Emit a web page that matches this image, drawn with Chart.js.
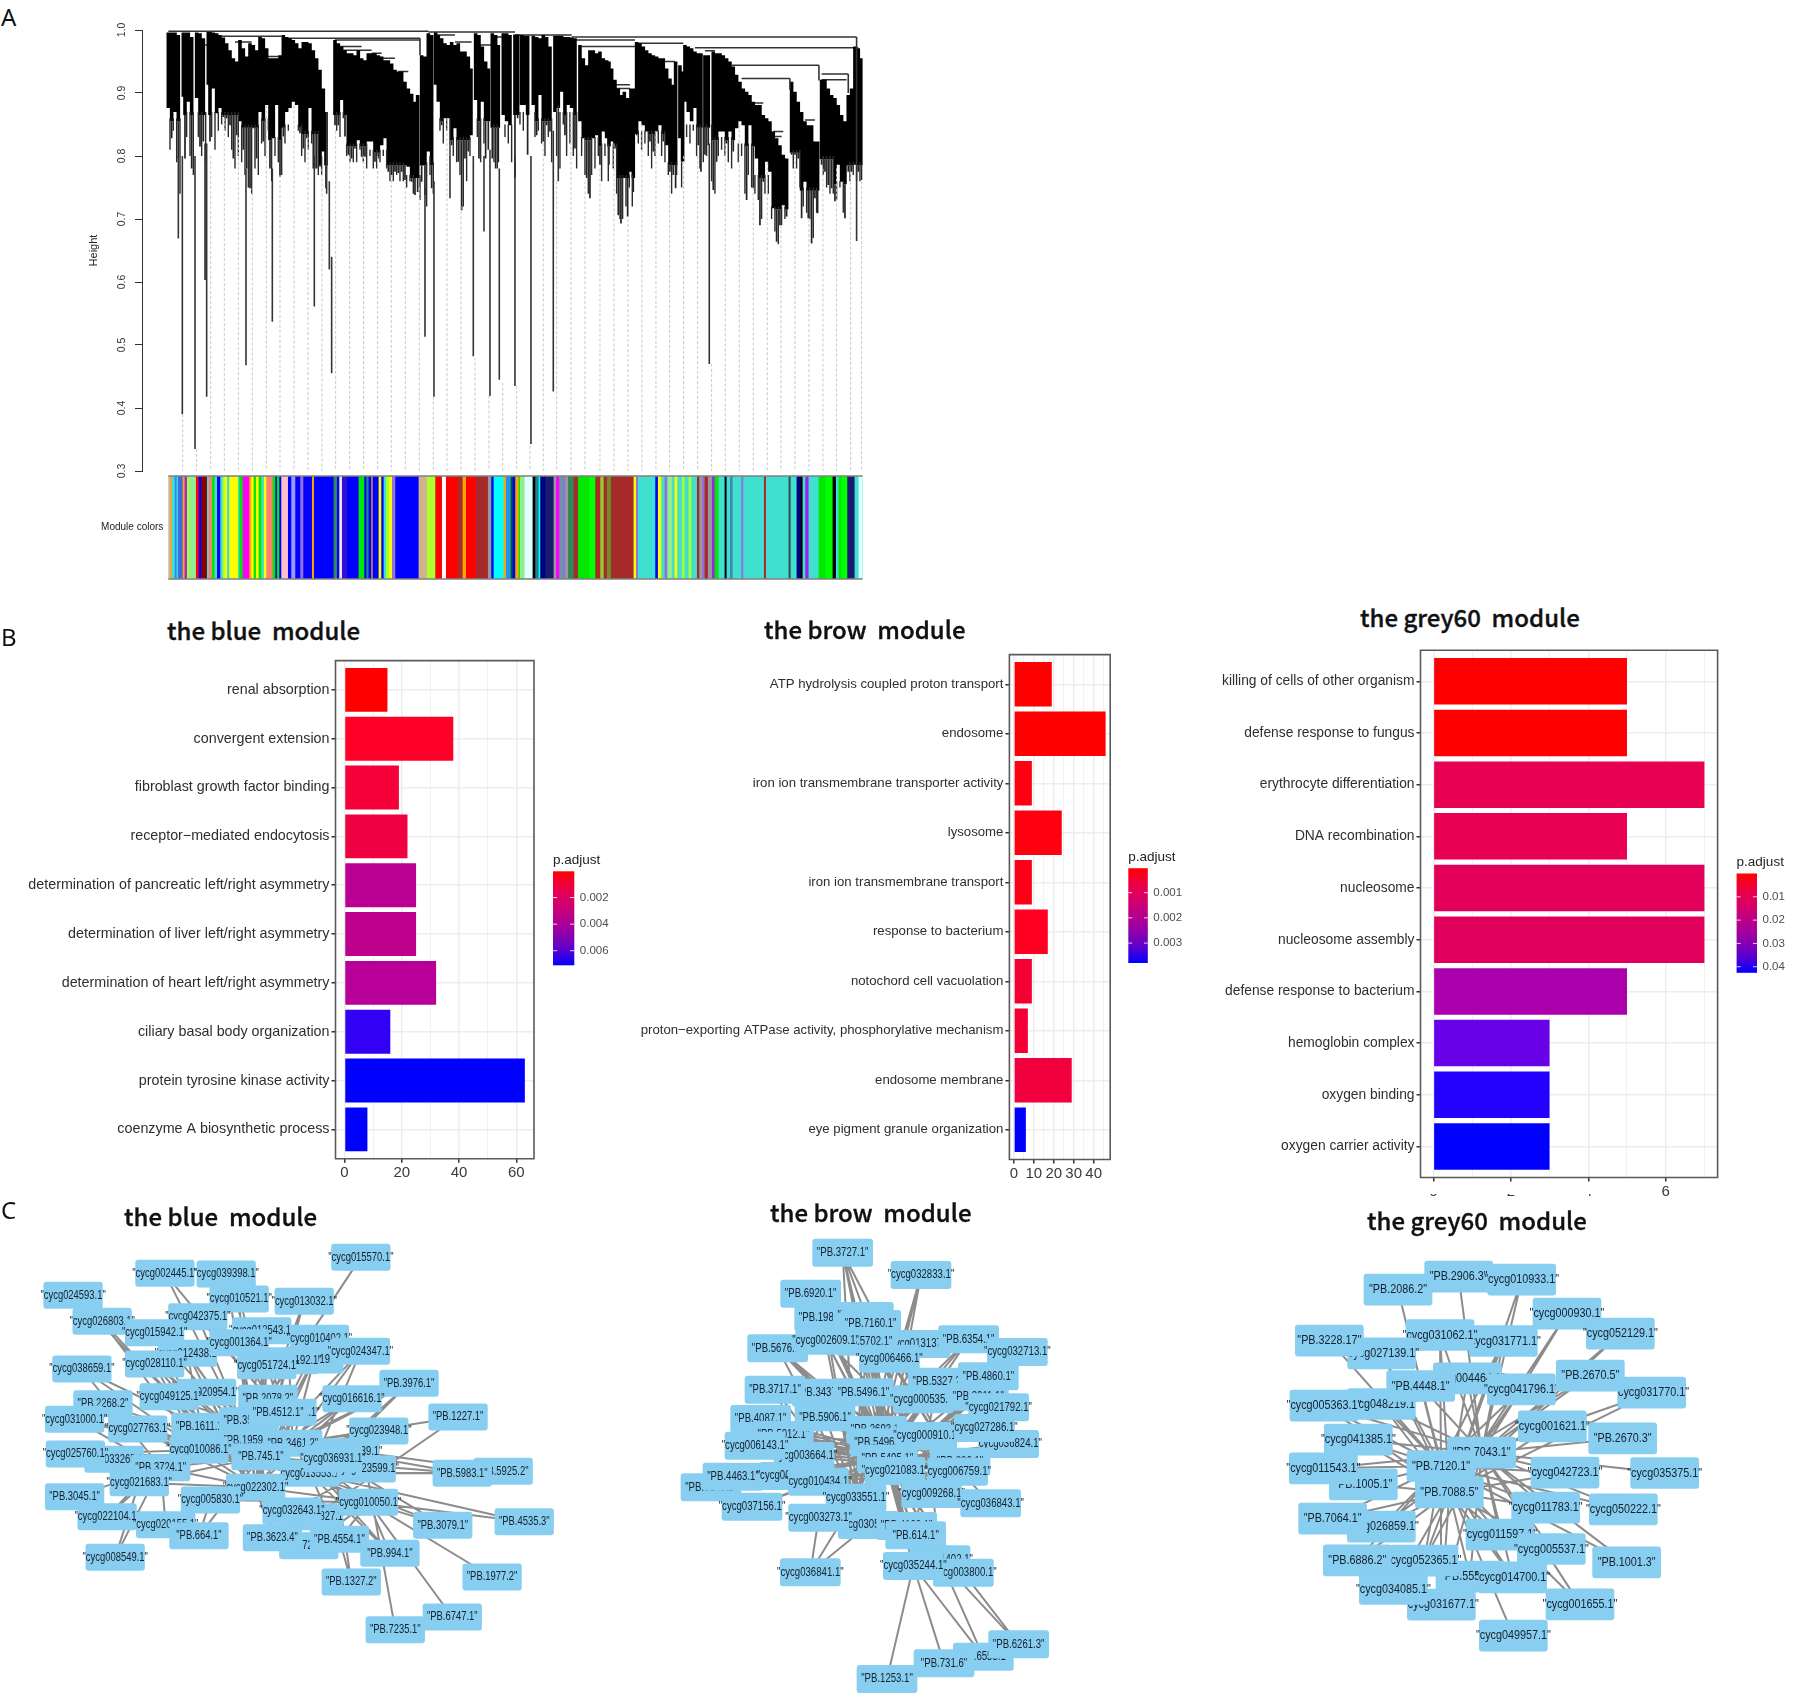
<!DOCTYPE html>
<html>
<head>
<meta charset="utf-8">
<title>Module figure</title>
<script src="https://cdn.jsdelivr.net/npm/chart.js@4"></script>
<style>
html,body{margin:0;padding:0;background:#fff;}
#page{position:relative;width:1795px;height:1697px;overflow:hidden;background:#fff;}
#page canvas{position:absolute;}
.title{position:absolute;font-family:"Noto Sans CJK SC","Noto Sans",sans-serif;font-weight:500;font-size:24px;line-height:30px;color:#111;white-space:pre;z-index:5;-webkit-text-stroke:0.35px #111;}
.letter{position:absolute;font-family:"Noto Sans","Open Sans",sans-serif;font-size:24px;line-height:30px;color:#111;z-index:5;}
#tickCover{position:absolute;left:1400px;top:1186px;width:250px;height:8px;background:#fff;z-index:4;}
</style>
</head>
<body>
<div id="page">
<div class="letter" style="left:1px;top:2px">A</div>
<div class="letter" style="left:1px;top:622px">B</div>
<div class="letter" style="left:1px;top:1195px">C</div>
<div class="title" style="left:167px;top:615px">the blue  module</div>
<div class="title" style="left:764px;top:614px">the brow  module</div>
<div class="title" style="left:1360px;top:602px">the grey60  module</div>
<div class="title" style="left:124px;top:1201px">the blue  module</div>
<div class="title" style="left:770px;top:1197px">the brow  module</div>
<div class="title" style="left:1367px;top:1205px">the grey60  module</div>
<div id="tickCover"></div>
</div>
<script>
// ------------------------------
// Panel A data (dendrogram)
// ------------------------------

const heightTicks = [1.0, 0.9, 0.8, 0.7, 0.6, 0.5, 0.4, 0.3];

const branchLeaf = [0,10,20,30,45,50,60,70,85,95,105,120,125,135,145,155,165,175,185,195,205,215,225,235,245,255,265,275,285,295,305,315,325,335,345,355,365,375,385,395,405,415,425,435,445,455,465,473,
500,510,520,530,540,550,560,570,580,590,600,610,620,630,640,650,660,670,680,690,700,710,720,730,740,748,760,770,780,790,802,810,820,830,840,850,860,870,880,890,900,908,922,932,942,952,960,972,982,990,1005,1015,1025,
1040,1048,1060,1070,1078,1095,1105,1115,1125,1135,1145,1160,1170,1180,1190,1200,1210,1220,1235,1245,1255,1265,1275,1285,1295,1305,1315,1322,1330,1340,1350,1358,1368,1378,1388,1395,
1405,1415,1425,1435,1445,1455,1465,1475,1485,1495,1505,1515,1522,1535,1543,1550,1560,1570,1580,1590,1598,1610,1620,1635,1645,1655,1665,1675,1685,1695,1705,1715,1725,1735,1745,1755,1765,1775,1785,1795,1805,1815,1825,1835,1845,1855,
1870,1880,1890,1900,1910,1920,1930,1940,1948,1960,1970,1980,1990,2000,2010,2020,2030,2040,2050,2060,2070,2080];

const branchTop = [.996,.996,.996,.992,.996,.996,.996,.989,.996,.995,.987,.997,.997,.996,.995,.992,.988,.979,.968,.955,.950,.984,.971,.958,.979,.976,.968,.989,.987,.971,.955,.955,.955,.960,.992,.989,.987,.984,.979,.971,.981,.981,.979,.968,.955,.937,.907,.870,
.984,.979,.974,.968,.963,.963,.960,.968,.955,.952,.963,.963,.963,.960,.958,.952,.952,.947,.937,.934,.934,.918,.907,.899,.886,.897,.960,.958,.995,.992,.996,.992,.987,.979,.976,.981,.976,.979,.966,.966,.958,.939,.995,.992,.974,.950,.939,.995,.992,.976,.995,.995,.992,
.993,.993,.992,.991,.991,.991,.989,.987,.992,.989,.974,.991,.991,.991,.989,.989,.988,.987,.976,.955,.944,.968,.968,.963,.966,.955,.952,.950,.939,.921,.907,.897,.902,.892,.907,.907,
.981,.979,.974,.968,.963,.960,.958,.955,.955,.939,.923,.913,.950,.944,.934,.976,.974,.971,.966,.963,.963,.960,.960,.966,.963,.963,.960,.955,.950,.942,.929,.918,.907,.902,.897,.886,.881,.881,.865,.860,.855,.839,.828,.817,.802,.796,
.918,.902,.886,.870,.855,.849,.849,.823,.823,.921,.921,.907,.897,.892,.881,.865,.855,.897,.907,.974,.971,.955];

const branchBottom = [.876,.828,.870,.796,.894,.796,.886,.780,.892,.815,.823,.913,.823,.907,.868,.876,.862,.860,.849,.796,.833,.855,.810,.780,.749,.844,.796,.870,.823,.881,.780,.828,.881,.767,.831,.870,.876,.886,.881,.836,.812,.828,.876,.780,.780,.783,.807,.749,
.849,.849,.889,.831,.802,.796,.812,.825,.799,.799,.823,.823,.791,.796,.817,.828,.775,.770,.775,.773,.775,.762,.783,.759,.738,.743,.759,.738,.807,.749,.913,.886,.849,.860,.860,.817,.844,.791,.714,.796,.807,.833,.889,.796,.886,.796,.810,.796,.780,.790,.865,.855,.849,
.765,.860,.881,.881,.802,.881,.833,.897,.823,.849,.839,.870,.876,.902,.833,.881,.876,.812,.855,.828,.765,.733,.828,.833,.786,.839,.828,.786,.823,.812,.706,.693,.765,.704,.775,.743,
.833,.855,.849,.839,.823,.807,.839,.849,.823,.817,.775,.770,.749,.828,.791,.886,.870,.855,.876,.817,.775,.802,.817,.746,.791,.839,.839,.820,.839,.807,.844,.855,.849,.730,.849,.749,.796,.690,.759,.791,.775,.717,.664,.690,.722,.704,
.802,.802,.796,.701,.759,.701,.661,.733,.709,.786,.775,.754,.749,.728,.786,.759,.701,.775,.775,.786,.775,.762];

// where the solid black body of each stretch of the tree ends, hairs hang below it
const bodyFrom = [0,45,85,120,215,275,305,345,405,455,500,530,600,660,720,760,802,850,922,972,1040,1105,1160,1235,1295,1350,1405,1495,1550,1635,1705,1765,1815,1870,1900,1960,2000,2040];
const bodyTo = [35,75,110,214,270,300,340,400,445,475,530,599,659,719,759,800,849,910,960,1025,1100,1145,1230,1290,1349,1400,1490,1545,1630,1700,1760,1810,1860,1899,1950,1999,2035,2085];
const bodyBottom = [.855,.865,.865,.865,.845,.855,.825,.845,.835,.785,.865,.815,.805,.785,.765,.785,.855,.825,.855,.845,.865,.855,.865,.825,.815,.765,.835,.785,.845,.825,.815,.765,.715,.805,.745,.795,.755,.785];

// thin leaf branches between the main ones
const hairLeaf = [5,15,25,35,55,65,75,90,100,112,130,140,150,160,170,180,190,200,210,220,230,240,250,260,270,280,290,300,310,320,330,340,350,360,390,400,410,420,430,440,450,460,505,515,525,535,545,555,565,575,585,595,605,615,625,635,645,655,665,675,685,695,705,715,725,735,755,775,785,795,815,825,835,845,855,865,875,885,895,905,927,937,947,977,987,1010,1020,1030,
1055,1065,1100,1110,1120,1130,1140,1150,1165,1175,1185,1195,1205,1215,1225,1240,1250,1260,1270,1280,1290,1300,1310,1320,1335,1345,1355,1363,1373,1383,1392,1410,1420,1430,1440,1450,1460,1470,1480,1490,1500,1510,1525,1540,1555,1565,1575,1585,1595,1605,1615,1630,1640,1650,1660,1670,1680,1690,1710,1720,1730,1740,1750,1760,1770,1780,1790,1800,1810,1820,1830,1840,1850,1875,1885,1895,1905,1915,1925,1935,1945,1965,1975,1985,1995,2005,2015,2025,2045,2055,2065,2075];
const hairTop = [.86,.86,.86,.86,.87,.87,.87,.87,.87,.87,.87,.87,.87,.87,.87,.87,.87,.87,.87,.85,.85,.85,.85,.85,.85,.86,.86,.86,.83,.83,.83,.83,.85,.85,.85,.85,.84,.84,.84,.84,.84,.80,.87,.87,.87,.82,.82,.82,.82,.82,.82,.82,.81,.81,.81,.81,.81,.81,.79,.79,.79,.79,.79,.77,.77,.77,.77,.79,.80,.79,.86,.86,.86,.86,.83,.83,.83,.83,.83,.83,.86,.86,.86,.85,.85,.85,.85,.85,
.87,.87,.87,.86,.86,.86,.86,.86,.87,.87,.87,.87,.87,.87,.87,.83,.83,.83,.83,.83,.83,.82,.82,.82,.82,.82,.77,.77,.77,.77,.77,.84,.84,.84,.84,.84,.84,.84,.84,.84,.79,.79,.79,.79,.85,.85,.85,.85,.85,.85,.85,.85,.83,.83,.83,.83,.83,.83,.82,.82,.82,.82,.82,.77,.77,.77,.77,.77,.72,.72,.72,.72,.72,.81,.81,.81,.75,.75,.75,.75,.75,.80,.80,.80,.80,.76,.76,.76,.79,.79,.79,.79];
const hairBottom = [.81,.84,.79,.74,.83,.80,.77,.83,.80,.79,.83,.81,.84,.85,.84,.83,.81,.78,.80,.79,.77,.75,.74,.78,.77,.82,.80,.84,.76,.80,.79,.77,.82,.84,.84,.80,.79,.81,.82,.78,.77,.77,.84,.83,.86,.80,.79,.79,.79,.81,.79,.78,.80,.78,.78,.79,.80,.78,.76,.76,.77,.76,.76,.75,.76,.74,.73,.72,.77,.74,.84,.82,.84,.80,.80,.79,.77,.72,.76,.80,.83,.79,.82,.79,.78,.83,.82,.79,
.85,.84,.83,.84,.82,.80,.83,.79,.80,.78,.85,.80,.82,.80,.78,.80,.77,.74,.77,.78,.80,.76,.80,.76,.78,.74,.70,.70,.72,.75,.72,.82,.81,.82,.80,.78,.80,.82,.80,.79,.77,.74,.77,.75,.83,.82,.84,.80,.78,.79,.80,.76,.74,.80,.81,.80,.79,.78,.79,.80,.74,.77,.75,.74,.73,.70,.74,.74,.70,.68,.66,.69,.70,.78,.78,.75,.72,.71,.70,.67,.71,.77,.75,.74,.74,.73,.75,.71,.76,.77,.76,.76];

const tailLeaf = [30,42,80,110,115,233,312,438,475,483,490,770,797,845,915,947,965,993,1040,1088,1155,1170,1623,2065,1952,1865,2040,755];
const tailTop = [.80,.80,.80,.82,.82,.78,.78,.80,.87,.76,.64,.75,.76,.80,.80,.80,.81,.78,.80,.80,.84,.88,.82,.989,.944,.923,.930,.987];
const tailBottom = [.669,.39,.335,.603,.418,.468,.537,.561,.74,.62,.455,.513,.418,.733,.482,.68,.419,.445,.435,.343,.426,.76,.47,.665,.920,.905,.900,.960];

const mergeFrom = [0,780,1040,1210,350,500,160,200,500,520,610,640,690,800,860,935,970,100,290,1220,1240,1400,1580,1610,1690,1720,1960,1960,1340,1340,1815,1810,1910,1915,1490,1755];
const mergeTo = [780,1040,1210,2065,755,755,340,250,580,610,640,680,720,860,910,970,1005,118,330,1400,1400,1545,2070,1640,1952,1865,2040,2035,1385,1385,1845,1840,1940,1930,1520,1785];
const mergeHeight = [.998,.997,.992,.989,.987,.984,.990,.981,.974,.968,.963,.955,.934,.992,.981,.976,.989,.976,.958,.984,.974,.979,.972,.967,.944,.923,.930,.921,.907,.913,.839,.831,.857,.823,.950,.884];

const guideLeaf = [43,85,127,168,210,252,294,335,377,419,461,502,544,586,628,669,711,753,795,836,878,920,962,1003,1045,1085,1125,1165,1208,1250,1295,1337,1379,1421,1463,1504,1546,1588,1630,1671,1713,1755,1797,1838,1880,1922,1964,2005,2047,2080];
const guideTop = [.39,.335,.80,.86,.83,.75,.88,.77,.88,.83,.78,.84,.80,.80,.80,.77,.76,.75,.418,.86,.72,.48,.42,.44,.435,.34,.82,.76,.87,.76,.78,.82,.70,.85,.84,.77,.80,.80,.47,.82,.85,.75,.79,.69,.80,.70,.78,.78,.775,.76];

// module colour strip, left to right
const palette = {
  turquoise:"#40E0D0", blue:"#0000FF", brown:"#A52A2A", yellow:"#FFFF00", green:"#00E800", lime:"#00FF00",
  red:"#FF0000", black:"#000000", pink:"#FFC0CB", magenta:"#FF00FF", purple:"#A020F0", greenyellow:"#ADFF2F",
  tan:"#D2B48C", salmon:"#FA8072", cyan:"#00FFFF", midnight:"#191970", lightcyan:"#E0FFFF", grey:"#999999",
  lightgreen:"#90EE90", royal:"#4169E1", darkred:"#8B0000", darkgreen:"#006400", orange:"#FFA500", white:"#FFFFFF",
  dodger:"#1E90FF", steel:"#4682B4", medpurple:"#9370DB", seagreen:"#2E8B57", teal:"#20808A", periwinkle:"#9999FF",
  blush:"#F4E4F4", indigo:"#3010D0", cadet:"#5F9EA0", navy:"#000080", yellowgreen:"#9ACD32", olive:"#6B8E23",
  firebrick:"#B22222", slate:"#2F4F4F", aqua:"#7FFFD4", lightgrey:"#BBBBBB"
};

const moduleNames = ["lightgrey","orange","turquoise","dodger","turquoise","royal","orange","purple","greenyellow","lightgreen","red","blue","darkred","turquoise","salmon","green","turquoise","blue","turquoise","greenyellow","yellow","turquoise","yellow","turquoise","green","magenta","orange","yellow","green","yellow","green","turquoise","yellow","salmon","green","blue","green","blue","pink","blue","periwinkle","blue","medpurple","blue","orange","blue","seagreen","blue","blush","indigo","blue","green","blue","teal","blue","orange","blue","yellow","blue","turquoise","greenyellow","yellow","medpurple","blue","tan","greenyellow","red","white","red","brown","orange","red","brown","brown","grey","blue","cyan","orange","dodger","darkgreen","blue",
"orange","green","lightgreen","lightcyan","black","teal","cyan","navy","midnight","grey","magenta","cadet","medpurple","grey","seagreen","brown","green","lime","brown","yellowgreen","brown","olive","brown","yellow","medpurple","turquoise","blue","yellow","turquoise","medpurple","lightgreen","turquoise","yellow","turquoise","greenyellow","turquoise","greenyellow","turquoise","brown","grey","medpurple","brown","grey","purple","green","turquoise","black","turquoise","steel","turquoise","medpurple","turquoise","firebrick","turquoise","slate","turquoise","navy","black","turquoise","purple","turquoise","green","lime","black","turquoise","green","lime","midnight","turquoise","lightcyan","aqua"];
const moduleWidths = [5,5,8,6,4,14,6,7,7,20,8,8,17,5,10,8,7,10,7,6,7,7,26,4,10,20,6,7,7,8,8,8,7,19,8,5,7,6,20,10,12,15,9,26,6,59,10,7,8,15,35,17,6,7,8,4,18,8,7,7,10,8,10,70,25,25,20,12,36,14,10,30,8,28,10,7,30,7,14,6,8,
10,4,14,24,8,10,5,15,25,7,10,10,8,8,17,13,34,18,15,10,10,12,68,7,6,52,8,10,10,8,14,8,8,14,8,12,8,17,7,8,8,10,12,8,12,18,6,10,8,26,6,62,6,68,6,18,12,6,8,10,30,20,22,10,8,8,18,22,12,10,8];

// ------------------------------
// Panel B data (enrichment bars)
// ------------------------------

const blueTerms = ["renal absorption","convergent extension","fibroblast growth factor binding","receptor\u2212mediated endocytosis","determination of pancreatic left/right asymmetry","determination of liver left/right asymmetry","determination of heart left/right asymmetry","ciliary basal body organization","protein tyrosine kinase activity","coenzyme A biosynthetic process"];
const blueCounts = [15,38,19,22,25,25,32,16,63,8];
const blueBarColors = ["#FF0000","#FF0028","#F50038","#EE0042","#BA0092","#BE008C","#B80098","#3400F4","#0000FF","#0000FF"];
const blueCountTicks = [0,10,20,30,40,50,60];
const blueCountLabels = [0,20,40,60];
const blueLegendTicks = [0.002,0.004,0.006];

const brownTerms = ["ATP hydrolysis coupled proton transport","endosome","iron ion transmembrane transporter activity","lysosome","iron ion transmembrane transport","response to bacterium","notochord cell vacuolation","proton\u2212exporting ATPase activity, phosphorylative mechanism","endosome membrane","eye pigment granule organization"];
const brownCounts = [19,46,9,24,9,17,9,7,29,6];
const brownBarColors = ["#FF0000","#FF0000","#FD0012","#FE000F","#FC0018","#FF0022","#F50033","#F20036","#F0003C","#0000FF"];
const brownCountTicks = [0,5,10,15,20,25,30,35,40,45];
const brownCountLabels = [0,10,20,30,40];
const brownLegendTicks = [0.001,0.002,0.003];

const grey60Terms = ["killing of cells of other organism","defense response to fungus","erythrocyte differentiation","DNA recombination","nucleosome","nucleosome assembly","defense response to bacterium","hemoglobin complex","oxygen binding","oxygen carrier activity"];
const grey60Counts = [5,5,7,5,7,7,5,3,3,3];
const grey60BarColors = ["#FF0000","#FF0000","#E80052","#E80052","#E3005A","#E0005C","#AC00AC","#6800E8","#2400FF","#0000FF"];
const grey60CountTicks = [0,1,2,3,4,5,6,7];
const grey60CountLabels = [0,2,4,6];
const grey60LegendTicks = [0.01,0.02,0.03,0.04];

// ------------------------------
// Panel C data (networks, node layout, in paint order)
// ------------------------------

const netBlueNames = ["cycg015570.1","cycg002445.1","cycg039398.1","cycg024593.1","cycg010521.1","cycg013032.1","cycg026803.1","cycg042375.1","cycg012543.1","cycg010402.1","cycg015942.1","cycg012438.1","cycg001364.1","cycg009191.1","cycg003192.1","cycg024347.1","cycg051724.1","cycg028110.1","cycg038659.1","PB.3976.1","cycg020954.1","cycg049125.1","PB.2078.2","cycg016616.1","PB.2268.2","cycg031000.1","PB.1227.1","cycg030131.1","PB.1611.1","PB.3571.1","PB.4512.1","cycg027763.1","cycg023948.1","PB.1959.1","PB.3461.2","cycg011739.1","cycg010086.1","cycg033265.1","cycg025760.1","cycg013553.1","PB.745.1","PB.3724.1","cycg023599.1","cycg036931.1","cycg021683.1","PB.5925.2","PB.5983.1","PB.3045.1","cycg022302.1","cycg005830.1","cycg013827.1","cycg032643.1","cycg010050.1","cycg022104.1","cycg020155.1","PB.664.1","PB.4535.3","PB.3079.1","PB.7211.1","PB.3623.4","PB.4554.1","PB.994.1","cycg008549.1","PB.1327.2","PB.1977.2","PB.6747.1","PB.7235.1"];
const netBlueX = [943,431,591,191,625,795,267,517,684,835,404,490,625,820,755,942,697,404,214,1069,540,442,700,920,269,195,1197,750,525,650,727,360,990,650,765,915,520,298,197,810,682,420,957,870,364,1315,1208,195,668,550,820,763,963,280,433,520,1370,1157,807,712,887,1019,301,918,1286,1182,1033];
const netBlueY = [202,250,252,316,327,334,394,380,422,445,428,490,458,510,512,484,527,522,537,580,607,620,625,626,641,688,681,667,709,692,668,717,723,752,760,785,780,808,792,850,800,833,837,806,878,844,850,920,892,930,980,963,937,980,1004,1037,995,1006,1067,1043,1048,1090,1102,1176,1161,1281,1319];
const netBlueLinks = [[22],[33,22],[22,29],[28],[22,33],[22,40],[28,36],[22,33],[40,34,33],[34,40],[28,33,36],[33,40,48,28],[40,22,48,33],[34,40,48],[34,40,33],[34,39,40],[40,34,33,48],[33,36,40,48],[36,28,41],[34,39,40,43],[40,48,34],[40,48,34],[48,39],[34,40,48],[36,40],[36,41,40],[34,50],[48],[40,48],[48],[48],[36,40,48],[34,40,39,48],[48],[48],[39],[40,48],[41,40],[41,36,40],[48,52],[48,51],[40,48],[48,39,51],[48],[48,36,40],[34,39],[34,39,40],[41],[40,52,50],[40,48,52],[48,52],[40,48,52],[34,39,40,48],[41,44],[49,41],[49,40],[52,39],[39,43,52],[48,52],[48,40,52],[39,48,52],[39,48,34,52],[44,41],[60,43],[52],[52],[42]];

const netBrownNames = ["PB.3727.1","cycg032833.1","PB.6920.1","PB.1985.1","PB.2702.1","PB.7160.1","cycg013137.1","PB.6354.1","cycg032713.1","PB.5676.1","PB.5702.1","cycg002609.1","cycg006466.1","PB.5327.2","PB.4860.1","PB.3437.1","PB.3717.1","PB.5496.1","cycg000535.1","PB.3011.1","cycg021792.1","PB.4087.1","PB.5012.1","PB.5906.1","cycg036824.1","PB.2693.1","PB.5496.2","cycg000910.1","cycg027286.1","cycg003664.1","cycg006143.1","PB.5495.1","cycg021083.1","PB.886.1","cycg006759.1","PB.6143.1","PB.4463.1","cycg008162.1","cycg010434.1","cycg009268.1","cycg033551.1","cycg036843.1","cycg037156.1","cycg030571.1","cycg003273.1","PB.4102.1","PB.614.1","cycg011402.1","cycg036841.1","cycg003800.1","cycg035244.1","PB.6553.1","PB.6261.3","PB.731.6","PB.1253.1"];
const netBrownX = [548,783,452,494,610,632,780,926,1072,353,620,497,688,835,985,487,345,610,790,955,1016,302,370,495,1046,650,660,800,973,432,285,682,705,900,893,153,219,390,475,815,588,992,276,625,476,740,767,840,451,910,760,970,1076,852,681];
const netBrownY = [188,255,311,382,378,402,462,448,486,475,455,452,506,575,559,608,599,607,628,620,652,687,735,682,762,720,757,738,714,798,767,806,843,815,845,892,860,858,875,912,923,940,950,1005,983,1008,1036,1108,1147,1148,1128,1400,1363,1420,1467];
const netBrownLinks = [[31,32,39,34,40,26],[25,26,31],[31,26],[31,26,40,32],[31,32,40],[31,32,34],[31,26,32],[31,26,25],[27,31,32],[31,26,40,25,32],[31,40],[31,26,40,32,34],[31,40,32,34],[27,26,31],[31,27,32],[31,29,34],[29,31,40],[31,40,34],[26,31,40],[27,31,32],[27,26,31,32],[31,40,34],[31,26,40,33,34],[31,40,29,34],[27,31,32],[31,39],[31,39],[31,40],[26,31,27,32],[31,26,40,25,33,34],[31,40,34,33],[39],[31],[31],[26,31],[29,31],[29,31,26],[31,34],[31,26,33,34],[31,26,25],[31,26,25,27],[27,31,32],[38,31],[26,31,25],[31,26],[31,26,25],[31,26,25,27],[31,27,32],[43,40,44],[31,32],[31,26,25,32],[47,50],[47,49],[50],[50]];

const netGrey60Names = ["PB.2906.3","PB.2086.2","cycg010933.1","cycg000930.1","cycg031771.1","cycg031062.1","cycg052129.1","cycg027139.1","PB.3228.17","cycg004464.1","cycg041796.1","cycg031770.1","PB.2670.5","cycg048219.1","cycg005363.1","PB.4448.1","cycg001621.1","PB.2670.3","cycg041385.1","PB.7043.1","cycg042723.1","cycg035375.1","PB.1005.1","cycg011543.1","PB.7120.1","PB.7088.5","cycg011783.1","cycg050222.1","cycg026859.1","PB.7064.1","cycg011597.1","cycg005537.1","PB.1001.3","cycg031677.1","PB.5557.1","cycg052365.1","PB.6886.2","cycg014700.1","cycg034085.1","cycg001655.1","cycg049957.1"];
const netGrey60X = [596,414,785,921,730,540,1081,365,208,622,784,1175,991,364,192,482,877,1088,295,665,915,1214,310,190,543,568,857,1090,364,218,720,874,1100,544,630,492,292,758,400,960,760];
const netGrey60Y = [260,299,269,371,453,435,431,490,452,565,598,608,557,642,647,588,709,745,749,788,848,849,883,835,828,907,953,958,1010,986,1034,1077,1117,1244,1160,1112,1111,1162,1197,1243,1337];
const netGrey60Links = [[19],[24],[19,25],[19,25],[19,24,25],[19,24,25],[19,25],[24,25],[24],[25,19],[19,24,25],[24,25,19],[19,24],[19,24,25],[24,19,25],[19,24,25],[19,24,25],[19],[19,24,25],[],[19,24,25],[19],[24,25],[24,19],[],[],[19,24,25],[19,24],[24,25,19],[25,24],[19,24,25],[19,25],[24,19],[19,25,24],[25,19],[24,25,19],[25,24],[19,25,24],[25],[19,24],[24]];

// ------------------------------
// Helpers
// ------------------------------

Chart.defaults.animation = false;
Chart.defaults.font.family = "'Liberation Sans', Arial, sans-serif";
Chart.defaults.plugins.legend.display = false;
Chart.defaults.plugins.tooltip.enabled = false;

function addCanvas(left, top, width, height) {
    const c = document.createElement("canvas");
    c.width = width;
    c.height = height;
    c.style.left = left + "px";
    c.style.top = top + "px";
    c.style.width = width + "px";
    c.style.height = height + "px";
    document.getElementById("page").appendChild(c);
    return c;
}

// stop tick labels from pushing the plot area in
function noLabelPadding(s) {
    s.paddingTop = 0;
    s.paddingBottom = 0;
}

const panelFrame = {
    id: "panelFrame",
    afterDatasetsDraw(chart, args, opts) {
        const a = chart.chartArea, ctx = chart.ctx;
        ctx.save();
        ctx.strokeStyle = opts.color;
        ctx.lineWidth = opts.width;
        ctx.beginPath();
        if (opts.sides) {
            ctx.moveTo(a.left, a.top); ctx.lineTo(a.right, a.top);
            ctx.moveTo(a.left, a.bottom); ctx.lineTo(a.right, a.bottom);
        } else {
            ctx.rect(a.left, a.top, a.right - a.left, a.bottom - a.top);
        }
        ctx.stroke();
        ctx.restore();
    }
};

// p.adjust colour bar with its tick labels
const pLegend = {
    id: "pLegend",
    afterDraw(chart, args, o) {
        const ctx = chart.ctx;
        const grad = ctx.createLinearGradient(0, o.top, 0, o.bottom);
        const stops = ["#FF0000","#F0003C","#DC0060","#C4007F","#A7009A","#8200B4","#5000D4","#0000FF"];
        stops.forEach((c, i) => grad.addColorStop(i / (stops.length - 1), c));
        ctx.save();
        ctx.fillStyle = grad;
        ctx.fillRect(o.left, o.top, o.width, o.bottom - o.top);
        ctx.fillStyle = "#222";
        ctx.font = "13.5px 'Liberation Sans'";
        ctx.textBaseline = "middle";
        ctx.fillText("p.adjust", o.left, o.top - 11);
        ctx.font = "11.5px 'Liberation Sans'";
        ctx.strokeStyle = "rgba(255,255,255,0.8)";
        ctx.lineWidth = 1;
        o.ticks.forEach(t => {
            const y = o.top + (t - o.pMin) / (o.pMax - o.pMin) * (o.bottom - o.top);
            ctx.beginPath();
            ctx.moveTo(o.left, y); ctx.lineTo(o.left + o.width / 5, y);
            ctx.moveTo(o.left + o.width * 4 / 5, y); ctx.lineTo(o.left + o.width, y);
            ctx.stroke();
            ctx.fillStyle = "#4D4D4D";
            ctx.fillText(String(t), o.left + o.width + 5.5, y);
        });
        ctx.restore();
    }
};

// rounded node boxes with their labels, painted one after the other
const nodeBoxes = {
    id: "nodeBoxes",
    afterDatasetsDraw(chart, args, o) {
        const ctx = chart.ctx, sx = chart.scales.x, sy = chart.scales.y;
        ctx.save();
        ctx.font = o.font;
        ctx.textAlign = "center";
        ctx.textBaseline = "middle";
        o.names.forEach((name, i) => {
            const px = sx.getPixelForValue(o.xs[i]);
            const py = sy.getPixelForValue(o.ys[i]);
            ctx.fillStyle = "#87CEF0";
            ctx.beginPath();
            ctx.roundRect(px - o.w / 2, py - o.h / 2, o.w, o.h, 3);
            ctx.fill();
            // the labels in the picture are narrower than the font, so squeeze them
            ctx.save();
            ctx.translate(px, py);
            ctx.scale(o.squeeze, 1);
            ctx.fillStyle = "#16202C";
            ctx.fillText('"' + name + '"', 0, 0);
            ctx.restore();
        });
        ctx.restore();
    }
};

// ------------------------------
// Panel A: dendrogram
// ------------------------------

function verticalSegments(xs, tops, bottoms) {
    const pts = [];
    xs.forEach((x, i) => {
        pts.push({x: x, y: tops[i]}, {x: x, y: bottoms[i]}, {x: x, y: null});
    });
    return pts;
}

// solid part of a branch stops at the body line of its stretch
const branchSolid = branchLeaf.map((leaf, i) => {
    const k = bodyFrom.findIndex((from, j) => leaf >= from && leaf <= bodyTo[j]);
    return k < 0 ? branchBottom[i] : Math.max(branchBottom[i], bodyBottom[k]);
});

const mergePoints = [];
mergeFrom.forEach((x, i) => {
    mergePoints.push({x: x, y: mergeHeight[i]}, {x: mergeTo[i], y: mergeHeight[i]}, {x: x, y: null});
});

const guideBase = guideLeaf.map(() => heightTicks[heightTicks.length - 1]);

new Chart(addCanvas(87, 20, 783, 460), {
    type: "scatter",
    data: {
        datasets: [
            {data: verticalSegments(guideLeaf, guideTop, guideBase), showLine: true, pointRadius: 0, borderColor: "#C8C8C8", borderWidth: 1, borderDash: [3, 2]},
            {data: verticalSegments(tailLeaf, tailTop, tailBottom), showLine: true, pointRadius: 0, borderColor: "#333", borderWidth: 1.6},
            {data: verticalSegments(hairLeaf, hairTop, hairBottom), showLine: true, pointRadius: 0, borderColor: "#2A2A2A", borderWidth: 1.4},
            {data: verticalSegments(branchLeaf, branchSolid, branchBottom), showLine: true, pointRadius: 0, borderColor: "#222", borderWidth: 1.7},
            {data: verticalSegments(branchLeaf, branchTop, branchSolid), showLine: true, pointRadius: 0, borderColor: "#000", borderWidth: 3.6},
            {data: mergePoints, showLine: true, pointRadius: 0, borderColor: "#333", borderWidth: 1.5}
        ]
    },
    options: {
        responsive: false,
        layout: {padding: {top: 10, right: 7.4, bottom: 9, left: 0}},
        scales: {
            x: {type: "linear", display: false, min: -79, max: 2083},
            y: {
                type: "linear", min: 0.3, max: 1.0,
                afterFit: s => { s.width = 55; noLabelPadding(s); },
                afterBuildTicks: s => { s.ticks = heightTicks.map(v => ({value: v})); },
                title: {display: true, text: "Height", font: {size: 11}, color: "#222", padding: {top: 0, bottom: 0}},
                border: {display: true, color: "#333", width: 1},
                grid: {drawOnChartArea: false, drawTicks: true, tickLength: 7, tickColor: "#333"},
                ticks: {minRotation: 90, maxRotation: 90, crossAlign: "center", font: {size: 10.5}, color: "#333", padding: 6, callback: v => Number(v).toFixed(1)}
            }
        }
    }
});

new Chart(addCanvas(70, 470, 800, 115), {
    type: "bar",
    data: {
        labels: ["Module colors"],
        datasets: moduleWidths.map((w, i) => ({
            data: [w],
            backgroundColor: palette[moduleNames[i]],
            barPercentage: 1,
            categoryPercentage: 1,
            stack: "m"
        }))
    },
    options: {
        indexAxis: "y",
        responsive: false,
        layout: {padding: {top: 6, right: 7.4, bottom: 6, left: 0}},
        plugins: {panelFrame: {color: "#808080", width: 1.5, sides: true}},
        scales: {
            x: {type: "linear", stacked: true, display: false, min: 0, max: 2083},
            y: {
                stacked: true,
                afterFit: s => { s.width = 98.3; noLabelPadding(s); },
                border: {display: false},
                grid: {display: false, drawTicks: false},
                ticks: {font: {size: 10}, color: "#222", padding: 5}
            }
        }
    },
    plugins: [panelFrame]
});

// ------------------------------
// Panel B: bar charts
// ------------------------------

function goChart(cfg) {
    new Chart(addCanvas(cfg.left, cfg.top, cfg.width, cfg.height), {
        type: "bar",
        data: {
            datasets: [{
                data: cfg.counts.map((v, i) => ({x: v, y: i})),
                backgroundColor: cfg.colors,
                barPercentage: 0.9,
                categoryPercentage: 1
            }]
        },
        options: {
            indexAxis: "y",
            responsive: false,
            layout: {padding: {top: cfg.padTop, right: cfg.padRight, bottom: 0, left: 0}},
            plugins: {panelFrame: {color: "#5A5A5A", width: 1.6}, pLegend: cfg.legend},
            scales: {
                x: {
                    type: "linear", min: cfg.xMin, max: cfg.xMax,
                    afterFit: s => { s.height = cfg.axisHeight; },
                    afterBuildTicks: s => { s.ticks = cfg.xTicks.map(v => ({value: v})); },
                    border: {display: false},
                    grid: {
                        color: "#EDEDED",
                        lineWidth: c => cfg.xLabels.includes(c.tick.value) ? 1.5 : 0.8,
                        tickColor: c => cfg.xLabels.includes(c.tick.value) ? "#333" : "rgba(0,0,0,0)",
                        tickLength: 4
                    },
                    ticks: {autoSkip: false, maxRotation: 0, font: {size: 15}, color: "#3A3A3A", padding: 1, callback: v => cfg.xLabels.includes(v) ? v : ""}
                },
                y: {
                    type: "linear", reverse: true, min: -0.6, max: 9.6, offset: false,
                    afterFit: s => { s.width = cfg.axisWidth; },
                    afterBuildTicks: s => { s.ticks = cfg.terms.map((t, i) => ({value: i})); },
                    border: {display: false},
                    grid: {offset: false, color: "#EDEDED", lineWidth: 1.5, tickColor: "#333", tickLength: 4},
                    ticks: {autoSkip: false, font: {size: cfg.termFont}, color: "#2E2E2E", padding: 2, callback: v => cfg.terms[v]}
                }
            }
        },
        plugins: [panelFrame, pLegend]
    });
}

goChart({
    left: 0, top: 650, width: 620, height: 540,
    padTop: 10, padRight: 86, axisWidth: 335.5, axisHeight: 31.3, termFont: 14.3,
    terms: blueTerms, counts: blueCounts, colors: blueBarColors,
    xMin: -3.15, xMax: 66.2, xTicks: blueCountTicks, xLabels: blueCountLabels,
    legend: {left: 553, top: 221.3, bottom: 315.3, width: 21.3, pMin: 0.00002, pMax: 0.0071, ticks: blueLegendTicks}
});

goChart({
    left: 620, top: 640, width: 580, height: 550,
    padTop: 14.6, padRight: 89.8, axisWidth: 389.4, axisHeight: 30.5, termFont: 13.2,
    terms: brownTerms, counts: brownCounts, colors: brownBarColors,
    xMin: -2.26, xMax: 48.3, xTicks: brownCountTicks, xLabels: brownCountLabels,
    legend: {left: 508.3, top: 228.2, bottom: 323, width: 19.5, pMin: 0.00003, pMax: 0.00379, ticks: brownLegendTicks}
});

goChart({
    left: 1200, top: 640, width: 595, height: 560,
    padTop: 10, padRight: 77.4, axisWidth: 220.5, axisHeight: 22.5, termFont: 13.8,
    terms: grey60Terms, counts: grey60Counts, colors: grey60BarColors,
    xMin: -0.333, xMax: 7.34, xTicks: grey60CountTicks, xLabels: grey60CountLabels,
    legend: {left: 536.6, top: 233.5, bottom: 332.8, width: 20.4, pMin: 0, pMax: 0.0426, ticks: grey60LegendTicks}
});

// ------------------------------
// Panel C: networks
// ------------------------------

function netChart(cfg) {
    const edges = [];
    cfg.links.forEach((targets, i) => {
        targets.forEach(t => {
            edges.push({x: cfg.xs[i], y: cfg.ys[i]}, {x: cfg.xs[t], y: cfg.ys[t]}, {x: cfg.xs[i], y: null});
        });
    });
    new Chart(addCanvas(cfg.left, cfg.top, cfg.width, cfg.height), {
        type: "scatter",
        data: {datasets: [{data: edges, showLine: true, pointRadius: 0, borderColor: "#8C8C8C", borderWidth: 2}]},
        options: {
            responsive: false,
            layout: {padding: 0},
            plugins: {nodeBoxes: {names: cfg.names, xs: cfg.xs, ys: cfg.ys, w: cfg.boxW, h: cfg.boxH, font: cfg.font, squeeze: cfg.squeeze}},
            scales: {
                x: {type: "linear", display: false, min: 0, max: cfg.xMax},
                y: {type: "linear", display: false, reverse: true, min: 0, max: cfg.yMax}
            }
        },
        plugins: [nodeBoxes]
    });
}

netChart({
    left: 0, top: 1190, width: 600, height: 507, xMax: 1568, yMax: 1521,
    names: netBlueNames, xs: netBlueX, ys: netBlueY, links: netBlueLinks,
    boxW: 59.3, boxH: 27, font: "12px 'Liberation Sans'", squeeze: 0.785
});

netChart({
    left: 660, top: 1190, width: 460, height: 507, xMax: 1380, yMax: 1521,
    names: netBrownNames, xs: netBrownX, ys: netBrownY, links: netBrownLinks,
    boxW: 60.7, boxH: 28, font: "12px 'Liberation Sans'", squeeze: 0.8
});

netChart({
    left: 1260, top: 1190, width: 480, height: 507, xMax: 1440, yMax: 1521,
    names: netGrey60Names, xs: netGrey60X, ys: netGrey60Y, links: netGrey60Links,
    boxW: 68.7, boxH: 31.7, font: "13px 'Liberation Sans'", squeeze: 0.83
});
</script>
</body>
</html>
